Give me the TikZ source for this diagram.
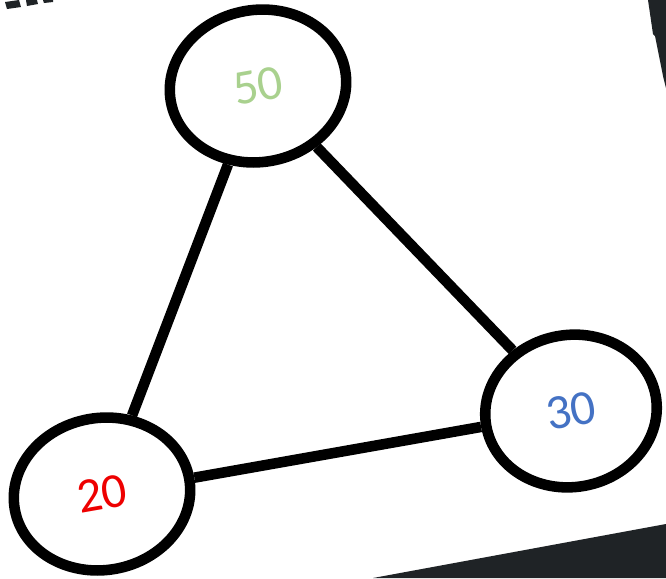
\documentclass[tikz,border=0pt]{standalone}
\usepackage{fontspec}
\setmainfont{Carlito}
\usetikzlibrary{shapes.geometric}
\definecolor{bgdark}{HTML}{1F2326}
\definecolor{valgreen}{HTML}{A9D18E}
\definecolor{valblue}{HTML}{4472C4}
\definecolor{valred}{HTML}{EE0000}

\begin{document}
\begin{tikzpicture}[x=0.01cm,y=-0.01cm,
  vertex/.style={draw,ellipse,line width=3pt,minimum width=1.77cm,
    minimum height=1.52cm,rotate=10,font=\fontsize{14}{16}\selectfont},
  link/.style={line width=3pt}]
\useasboundingbox[fill=white](0,0) rectangle (666,578);
%
\fill[bgdark](373,578)--(666,524)--(666,578)--cycle;
\fill[bgdark](648,0)--(666,0)--(666,88)--(663,76)--(655,36)--(653,34)--cycle;
\fill[bgdark](5,2)--(19,0)--(21,7)--(7,9)--cycle;
\fill[bgdark](26,0)--(37,0)--(38,4)--(27,6)--cycle;
\fill[bgdark](43,0)--(53,0)--(53,2)--(44,3)--cycle;
%
\node[vertex,text=valgreen](n50) at (258,86){50\hspace{3pt}};
\node[vertex,text=valred](n20) at (102,494){20\hspace{4pt}};
\node[vertex,text=valblue,minimum width=1.72cm](n30) at (571,411){30\hspace{2pt}};
%
\draw[link](n50)--(n20);
\draw[link](n50)--(n30);
\draw[link](n20)--(n30);
\end{tikzpicture}
\end{document}
